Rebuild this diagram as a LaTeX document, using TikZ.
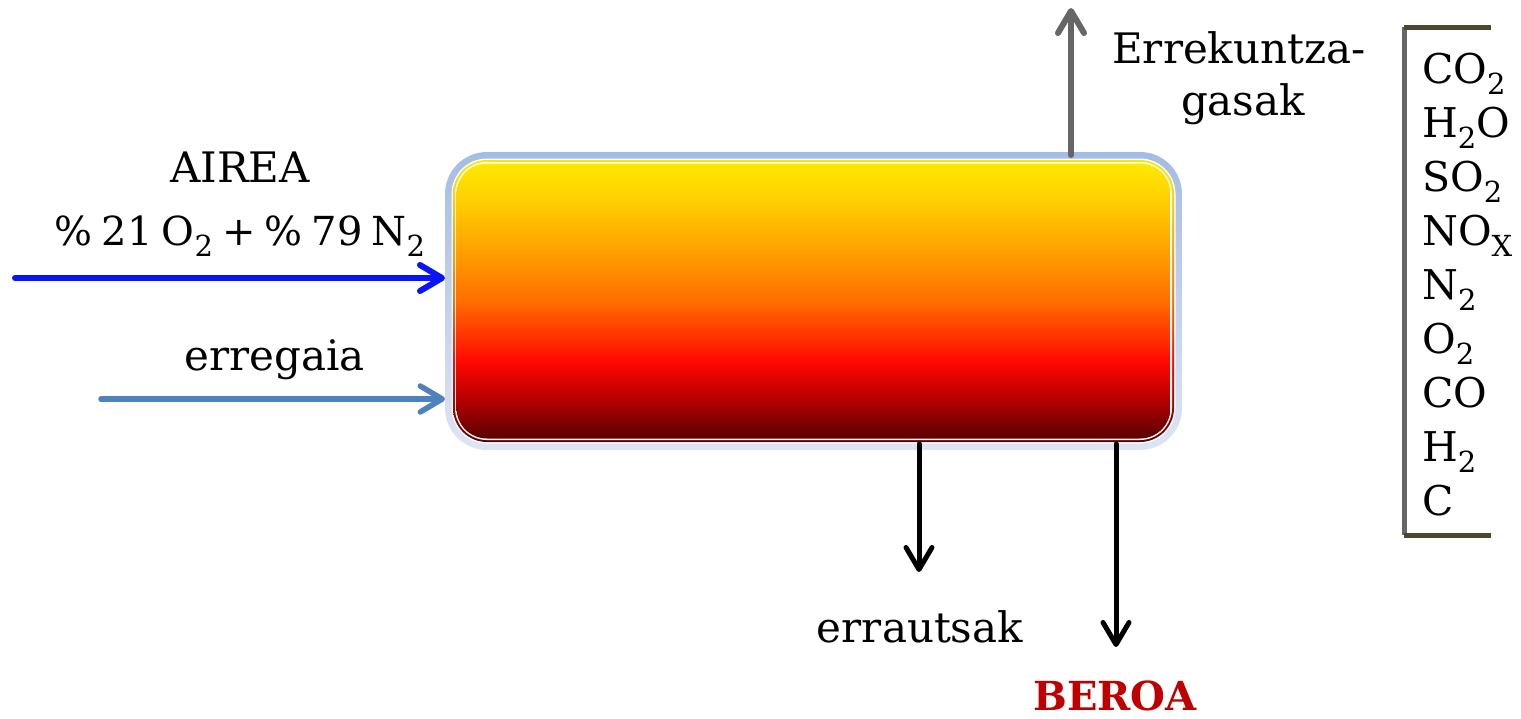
\documentclass[tikz,border=0pt]{standalone}
\usepackage{fontspec}
\setmainfont{DejaVu Serif}
\usepackage{graphicx}
\usetikzlibrary{arrows.meta}
\definecolor{fA}{HTML}{FFE800}
\definecolor{fB}{HTML}{FFD000}
\definecolor{fC}{HTML}{FFA000}
\definecolor{fD}{HTML}{FF6E00}
\definecolor{fE}{HTML}{FF4000}
\definecolor{fF}{HTML}{FF0800}
\definecolor{fG}{HTML}{B40000}
\definecolor{fH}{HTML}{5A0000}
\definecolor{glowT}{HTML}{A4BDE6}
\definecolor{glowB}{HTML}{DDE5F4}
\definecolor{airblue}{HTML}{0A14F5}
\definecolor{fuelblue}{HTML}{4F81BD}
\definecolor{gasgray}{HTML}{666666}
\definecolor{olive}{HTML}{4D4632}
\definecolor{heatred}{HTML}{C00000}
\pgfdeclareverticalshading{fire}{100bp}{color(0bp)=(fH); color(25bp)=(fH); color(32bp)=(fG); color(39bp)=(fF); color(45bp)=(fE); color(50bp)=(fD); color(59bp)=(fC); color(68.5bp)=(fB); color(75bp)=(fA); color(100bp)=(fA)}
\newcommand{\sbs}[1]{\raisebox{-11pt}{\fontsize{29}{32}\selectfont #1}}
\newcommand{\gap}{\hspace{9pt}}
\begin{document}
\begin{tikzpicture}[x=1pt,y=-1pt,
  layer/.style={inner sep=0pt, outer sep=0pt},
  lbl/.style={font=\fontsize{42}{50}\selectfont, inner sep=0pt, anchor=base},
  flow/.style={line width=6pt, line cap=round, -{Straight Barb[length=22pt,width=26pt,round]}},
]
\useasboundingbox (0,0) rectangle (1521,718);
% furnace
\node[layer, rounded corners=42pt, top color=glowT, bottom color=glowB, minimum width=737pt, minimum height=298pt] (box) at (813.5,301) {};
\node[layer, rounded corners=35.5pt, fill=white, minimum width=724pt, minimum height=285pt] (w1) at (box.center) {};
\node[layer, rounded corners=34pt, shade, shading=fire, minimum width=721pt, minimum height=282pt] (ring) at (box.center) {};
\node[layer, rounded corners=32pt, fill=white, minimum width=717pt, minimum height=278pt] (w2) at (box.center) {};
\node[layer, rounded corners=30.5pt, shade, shading=fire, minimum width=714pt, minimum height=275pt] (core) at (box.center) {};
% inputs
\coordinate (airS) at (15,278);
\coordinate (fuelS) at (101,399);
\draw[flow, airblue] (airS) -- (airS -| box.west);
\draw[flow, fuelblue, line width=5.5pt] (fuelS) -- (fuelS -| box.west);
\node[lbl] (airea) at (240,182) {AIREA};
\node[lbl, font=\fontsize{40}{48}\selectfont] (comp) at (240,245) {\%\gap21\gap O\sbs{2}\gap+\gap\%\gap79\gap N\sbs{2}};
\node[lbl] (fuel) at (274.5,370) {erregaia};
% outputs
\coordinate (gasE) at (1071,8);
\coordinate (ashE) at (919,572);
\coordinate (heatE) at (1116,647);
\draw[flow, gasgray] ([yshift=-3pt]box.north -| gasE) -- (gasE);
\draw[flow, black, line width=5pt] ([yshift=6pt]box.south -| ashE) -- (ashE);
\draw[flow, black, line width=5pt] ([yshift=6pt]box.south -| heatE) -- (heatE);
\node[lbl] (gas1) at (1239,63) {Errekuntza-};
\node[lbl] (gas2) at (1243,115) {gasak};
\node[lbl] (ash) at (920,642) {errautsak};
\node[lbl, font=\fontsize{40}{46}\selectfont\bfseries, text=heatred] (heat) at (1115,710) {BEROA};
% bracket list
\coordinate (bTL) at (1404,27);
\coordinate (bTR) at (1491,27);
\coordinate (bBL) at (1404,535);
\coordinate (bBR) at (1491,535);
\draw[gasgray, line width=5pt] (bTL) -- (bBL);
\draw[olive, line width=5pt] (bTL) -- (bTR);
\draw[olive, line width=5pt] (bBL) -- (bBR);
\foreach \t [count=\i from 0] in {CO\sbs{2}, H\sbs{2}O, SO\sbs{2}, NO\sbs{X}, N\sbs{2}, O\sbs{2}, CO, H\sbs{2}, C}
  \node[lbl, font=\fontsize{41}{48}\selectfont, anchor=base west] (g\i) at (1422, 83+54*\i) {\t};
\end{tikzpicture}
\end{document}
